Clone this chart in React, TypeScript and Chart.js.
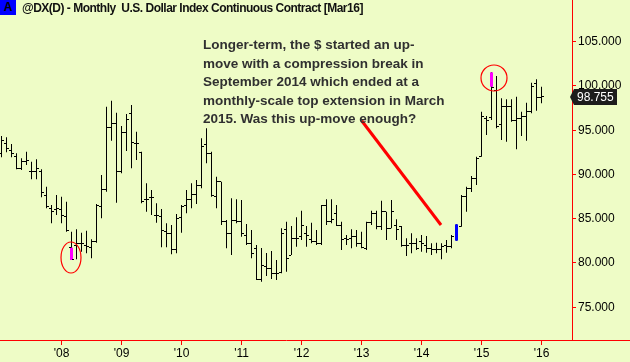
import React, { useEffect, useRef } from "react";
import { Chart, registerables } from "chart.js";

Chart.register(...registerables);

// Monthly bars, index 0 = Jan 2007 ... index 108 = Jan 2016
const HIGH = [
  94.35, 94.2, 93.44, 92.39, 91.83, 92.57, 91.44, 91.71, 90.58, 88.62,
  86.55, 87.68, 87.49, 86.92, 83.54, 83.81, 83.42, 83.65, 82.68, 86.66,
  89.94, 97.66, 98.33, 96.98, 95.48, 96.83, 97.85, 94.83, 92.57, 89.0,
  88.25, 86.74, 86.1, 84.48, 84.29, 85.54, 86.55, 88.25, 89.0, 89.38,
  94.09, 95.22, 92.57, 89.75, 89.18, 84.86, 87.31, 87.2, 87.12, 84.41,
  83.73, 82.03, 81.69, 81.13, 81.36, 80.34, 83.92, 84.67, 84.18, 85.16,
  85.91, 84.18, 84.55, 83.73, 86.55, 87.2, 87.2, 86.55, 84.67, 83.16,
  83.81, 83.73, 83.54, 84.67, 85.91, 85.91, 87.04, 85.79, 87.12, 84.94,
  84.18, 82.79, 83.35, 82.79, 83.16, 83.05, 82.23, 82.29, 82.23, 82.6,
  83.16, 84.37, 87.68, 88.62, 89.83, 92.01, 97.09, 96.61, 101.54, 101.12,
  98.6, 98.49, 98.49, 98.79, 97.09, 98.11, 100.37, 100.75, 99.91,
];
const LOW = [
  91.94, 92.5, 91.94, 90.58, 90.51, 91.07, 89.45, 89.45, 87.42, 86.18,
  84.48, 85.42, 84.48, 83.54, 80.34, 80.42, 81.28, 81.1, 80.53, 82.29,
  85.05, 88.05, 93.8, 86.81, 90.13, 92.65, 90.7, 91.63, 86.74, 85.79,
  85.42, 84.55, 81.77, 81.77, 80.98, 81.1, 83.42, 85.61, 86.18, 86.66,
  88.44, 91.26, 87.49, 86.18, 84.29, 81.66, 80.9, 84.48, 82.97, 82.03,
  80.53, 78.08, 77.89, 78.53, 78.19, 78.08, 78.84, 79.02, 80.9, 81.84,
  82.6, 81.84, 82.23, 82.03, 82.03, 84.29, 84.48, 84.18, 81.47, 82.03,
  81.66, 81.84, 81.66, 81.47, 84.29, 83.81, 83.73, 82.6, 83.92, 82.6,
  81.84, 80.79, 81.1, 81.47, 81.28, 81.16, 80.9, 81.1, 80.42, 81.16,
  81.66, 82.52, 84.1, 85.79, 88.02, 88.81, 92.01, 94.46, 96.15, 95.22,
  93.89, 93.7, 95.96, 92.84, 94.35, 93.82, 96.91, 97.2, 98.04,
];
const OPEN = [
  92.39, 93.52, 92.76, 92.01, 90.7, 91.44, 90.31, 90.31, 90.31, 87.68,
  86.18, 86.07, 86.07, 85.23, 81.73, 82.03, 82.15, 82.03, 81.77, 82.41,
  86.36, 88.33, 95.33, 95.78, 90.31, 94.72, 96.91, 93.52, 92.46, 87.12,
  87.42, 85.31, 85.23, 83.54, 83.28, 81.55, 85.16, 86.44, 87.2, 87.79,
  88.81, 93.33, 92.39, 87.49, 89.18, 84.67, 83.35, 84.78, 84.67, 83.16,
  82.23, 81.66, 78.16, 79.58, 79.4, 78.84, 78.9, 83.73, 80.9, 82.79,
  82.97, 83.35, 82.6, 82.41, 82.23, 86.55, 84.67, 85.61, 84.18, 82.79,
  82.79, 82.97, 82.23, 81.66, 84.6, 85.54, 84.1, 85.79, 83.92, 84.29,
  84.1, 82.03, 82.23, 82.23, 82.41, 82.03, 81.66, 81.47, 81.47, 82.03,
  81.84, 82.94, 84.1, 87.49, 88.47, 89.6, 92.01, 96.35, 96.38, 99.54,
  95.59, 97.73, 97.73, 96.15, 96.35, 96.53, 97.09, 100.3, 98.72,
];
const CLOSE = [
  93.89, 92.96, 92.39, 90.7, 91.44, 91.56, 90.31, 90.7, 87.94, 86.36,
  85.79, 86.18, 85.31, 83.65, 80.42, 82.23, 82.15, 81.84, 82.41, 86.55,
  88.33, 95.28, 95.78, 90.31, 94.72, 96.23, 93.56, 93.52, 86.92, 87.12,
  87.42, 85.31, 83.65, 83.28, 81.55, 85.05, 86.36, 87.2, 87.79, 88.81,
  93.14, 92.39, 87.57, 89.18, 84.67, 83.35, 84.78, 84.67, 83.35, 82.23,
  81.1, 78.08, 79.77, 79.4, 78.84, 78.84, 83.35, 80.53, 82.79, 82.79,
  84.29, 83.16, 82.41, 82.23, 86.55, 84.67, 84.94, 84.18, 82.68, 82.68,
  82.97, 82.23, 81.77, 84.6, 85.54, 84.1, 85.79, 83.92, 85.79, 83.73,
  82.03, 82.03, 82.23, 81.66, 82.23, 81.66, 81.47, 81.47, 81.84, 81.84,
  82.97, 84.18, 87.49, 88.44, 89.6, 91.86, 96.53, 96.15, 99.77, 95.4,
  97.66, 97.73, 96.15, 96.35, 96.53, 97.09, 99.91, 98.72, 98.755,
];

// highlighted segments (magenta) and the compression-break bar (blue)
const TOP_INDEX = [14, 98];
const TOP_LOW = [80.34, 99.91];
const TOP_HIGH = [81.73, 101.54];
const BREAK_INDEX = [91];
const BREAK_LOW = [82.52];
const BREAK_HIGH = [84.37];

const LAST_PRICE = 98.755;

const X_TICKS = [12, 24, 36, 48, 60, 72, 84, 96, 108];
const X_TICK_LABELS = ["'08", "'09", "'10", "'11", "'12", "'13", "'14", "'15", "'16"];
const Y_TICKS = [75, 80, 85, 90, 95, 100, 105];

const X_MIN = -0.3;
const X_MAX = 114.1;
const Y_MIN = 71.3;
const Y_MAX = 109.71;

// annotation anchors in data coordinates
const ARROW_FROM = { x: 72.04, y: 96.07 };
const ARROW_TO = { x: 87.9, y: 84.29 };
const CIRCLES = [
  { x: 13.9, y: 80.62, rx: 10, ry: 15.5 },
  { x: 98.5, y: 100.9, rx: 13, ry: 13 },
];

const NOTE_LINES = [
  "Longer-term, the $ started an up-",
  "move with a compression break in",
  "September 2014 which ended at a",
  "monthly-scale top extension in March",
  "2015. Was this up-move enough?",
];

const BG = "#eefcc6";
const RED = "#ff0000";
const FONT = "'Liberation Sans', Arial, sans-serif";

const bgPlugin = {
  id: "bg",
  beforeDraw(chart: any) {
    const { ctx } = chart;
    ctx.save();
    ctx.fillStyle = BG;
    ctx.fillRect(0, 0, chart.width, chart.height);
    ctx.restore();
  },
};

const ohlcPlugin = {
  id: "ohlcTicks",
  afterDatasetsDraw(chart: any) {
    const { ctx } = chart;
    const x = chart.scales.x;
    const y = chart.scales.y;
    ctx.save();
    ctx.fillStyle = "#000";
    for (let i = 0; i < OPEN.length; i++) {
      if (BREAK_INDEX.includes(i)) continue;
      const px = Math.round(x.getPixelForValue(i) - 0.5);
      const yo = Math.round(y.getPixelForValue(OPEN[i]) - 0.5);
      const yc = Math.round(y.getPixelForValue(CLOSE[i]) - 0.5);
      ctx.fillRect(px - 2, yo, 2, 1);
      ctx.fillRect(px + 1, yc, 2, 1);
    }
    ctx.restore();
  },
};

const annotationPlugin = {
  id: "notes",
  afterDraw(chart: any) {
    const { ctx, chartArea } = chart;
    const x = chart.scales.x;
    const y = chart.scales.y;
    ctx.save();
    // extend x axis line to the right edge
    ctx.strokeStyle = RED;
    ctx.lineWidth = 1;
    ctx.beginPath();
    ctx.moveTo(chartArea.right, Math.round(chartArea.bottom) + 0.5);
    ctx.lineTo(chart.width, Math.round(chartArea.bottom) + 0.5);
    ctx.stroke();

    // arrow line
    ctx.strokeStyle = RED;
    ctx.lineWidth = 3;
    ctx.beginPath();
    ctx.moveTo(x.getPixelForValue(ARROW_FROM.x), y.getPixelForValue(ARROW_FROM.y));
    ctx.lineTo(x.getPixelForValue(ARROW_TO.x), y.getPixelForValue(ARROW_TO.y));
    ctx.stroke();

    // circles
    ctx.lineWidth = 1.2;
    for (const c of CIRCLES) {
      ctx.beginPath();
      ctx.ellipse(x.getPixelForValue(c.x), y.getPixelForValue(c.y), c.rx, c.ry, 0, 0, Math.PI * 2);
      ctx.stroke();
    }

    // last price label
    const py = Math.round(y.getPixelForValue(LAST_PRICE));
    const left = chartArea.right + 1;
    ctx.fillStyle = "#1c1c1c";
    ctx.beginPath();
    ctx.moveTo(left - 3, py);
    ctx.lineTo(left + 1, py - 8);
    ctx.lineTo(617, py - 8);
    ctx.lineTo(617, py + 8);
    ctx.lineTo(left + 1, py + 8);
    ctx.closePath();
    ctx.fill();
    ctx.fillStyle = "#ffffff";
    ctx.font = `12px ${FONT}`;
    ctx.textBaseline = "middle";
    ctx.textAlign = "left";
    ctx.fillText(LAST_PRICE.toFixed(3), left + 4, py + 1);
    ctx.restore();
  },
};

export default function App() {
  const ref = useRef<HTMLCanvasElement>(null);

  useEffect(() => {
    document.body.style.margin = "0";
    document.body.style.background = BG;
    const canvas = ref.current!;
    const rangeData = HIGH.map((h, i) => ({ x: i, y: [LOW[i], h] }));
    const topData = TOP_INDEX.map((idx, k) => ({ x: idx, y: [TOP_LOW[k], TOP_HIGH[k]] }));
    const breakData = BREAK_INDEX.map((idx, k) => ({ x: idx, y: [BREAK_LOW[k], BREAK_HIGH[k]] }));

    const chart = new Chart(canvas, {
      type: "bar",
      data: {
        datasets: [
          {
            label: "range",
            data: rangeData as any,
            backgroundColor: "#000000",
            barThickness: 1,
            grouped: false,
            inflateAmount: 0,
            borderWidth: 0,
            order: 2,
          } as any,
          {
            label: "top",
            data: topData as any,
            backgroundColor: "#ff00ff",
            barThickness: 3,
            grouped: false,
            inflateAmount: 0,
            borderWidth: 0,
            order: 1,
          } as any,
          {
            label: "break",
            data: breakData as any,
            backgroundColor: "#0000ff",
            barThickness: 3,
            grouped: false,
            inflateAmount: 0,
            borderWidth: 0,
            order: 1,
          } as any,
        ],
      },
      options: {
        animation: false,
        responsive: false,
        devicePixelRatio: 1,
        layout: { padding: 0 },
        plugins: {
          legend: { display: false },
          tooltip: { enabled: false },
          title: { display: false },
        },
        scales: {
          x: {
            type: "linear",
            min: X_MIN,
            max: X_MAX,
            offset: false,
            grid: {
              display: true,
              drawOnChartArea: false,
              drawTicks: true,
              tickLength: 5,
              tickColor: RED,
              offset: false,
            },
            border: { display: true, color: RED, width: 1 },
            ticks: {
              color: "#000",
              font: { family: FONT, size: 12 },
              padding: 1,
              maxRotation: 0,
              autoSkip: false,
              callback: (v: any) => {
                const k = X_TICKS.indexOf(Number(v));
                return k >= 0 ? X_TICK_LABELS[k] : "";
              },
            },
            afterBuildTicks: (s: any) => {
              s.ticks = X_TICKS.map((v) => ({ value: v }));
            },
            afterFit: (s: any) => {
              s.height = 22;
              s.paddingLeft = 0;
              s.paddingRight = 0;
            },
          } as any,
          y: {
            type: "linear",
            position: "right",
            min: Y_MIN,
            max: Y_MAX,
            beginAtZero: false,
            grid: {
              display: true,
              drawOnChartArea: false,
              drawTicks: true,
              tickLength: 4,
              tickColor: RED,
            },
            border: { display: true, color: RED, width: 1 },
            ticks: {
              color: "#000",
              font: { family: FONT, size: 12 },
              padding: 2,
              autoSkip: false,
              callback: (v: any) => Number(v).toFixed(3),
            },
            afterBuildTicks: (s: any) => {
              s.ticks = Y_TICKS.map((v) => ({ value: v }));
            },
            afterFit: (s: any) => {
              s.width = 58;
              s.paddingTop = 0;
              s.paddingBottom = 0;
            },
          } as any,
        },
      },
      plugins: [bgPlugin, ohlcPlugin, annotationPlugin],
    });
    return () => chart.destroy();
  }, []);

  return (
    <div style={{ position: "relative", width: 630, height: 362, background: BG, overflow: "hidden" }}>
      <canvas ref={ref} width={630} height={362} style={{ display: "block", width: 630, height: 362 }} />
      <div
        style={{
          position: "absolute",
          left: 0,
          top: 0,
          width: 16,
          height: 15,
          background: "#0000ff",
          color: "#000",
          font: `bold 12px ${FONT}`,
          lineHeight: "15px",
          textAlign: "center",
        }}
      >
        A
      </div>
      <div
        style={{
          position: "absolute",
          left: 22,
          top: 0,
          font: `bold 12px ${FONT}`,
          lineHeight: "16px",
          letterSpacing: "-0.5px",
          color: "#111",
          whiteSpace: "pre",
        }}
      >
        {"@DX(D) - Monthly  U.S. Dollar Index Continuous Contract [Mar16]"}
      </div>
      <div
        style={{
          position: "absolute",
          left: 203,
          top: 36,
          font: `bold 13.5px ${FONT}`,
          lineHeight: "18.5px",
          color: "#303030",
          whiteSpace: "pre",
        }}
      >
        {NOTE_LINES.map((l, i) => (
          <div key={i}>{l}</div>
        ))}
      </div>
    </div>
  );
}
